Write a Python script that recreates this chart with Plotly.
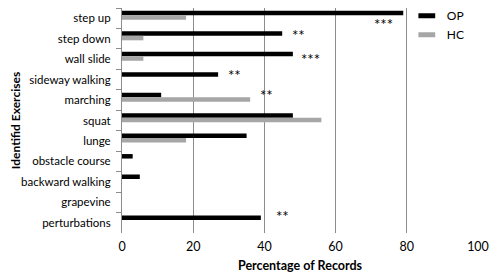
import plotly.graph_objects as go

categories = ["step up", "step down", "wall slide", "sideway walking", "marching",
              "squat", "lunge", "obstacle course", "backward walking", "grapevine",
              "perturbations"]
op_values = [79, 45, 48, 27, 11, 48, 35, 3, 5, 0, 39]
hc_values = [18, 6, 6, 0, 36, 56, 18, 0, 0, 0, 0]
x_ticks = [0, 20, 40, 60, 80, 100]
series_names = ["OP", "HC"]
series_colors = ["#000000", "#a6a6a6"]
bar_offsets = [-0.36, -0.14]

# significance markers
sig_cats = ["step up", "step down", "wall slide", "sideway walking", "marching", "perturbations"]
sig_x = [73.5, 49.5, 53, 31.5, 40.5, 45]
sig_labels = ["***", "**", "***", "**", "**", "**"]
sig_shift = [-6, 4, 0, 5, 5, 7]

font_family = "Lato, Carlito, Arial, sans-serif"

fig = go.Figure()
for vals, name, col, off in zip([op_values, hc_values], series_names, series_colors, bar_offsets):
    fig.add_trace(go.Bar(y=categories, x=vals, orientation="h", name=name,
                         marker=dict(color=col, line=dict(width=0)),
                         width=0.22, offset=off, showlegend=False))
# legend entries drawn as short thick dashes like the original
for name, col in zip(series_names, series_colors):
    fig.add_trace(go.Scatter(x=[None], y=[None], mode="markers", name=name,
                             marker=dict(symbol="line-ew", size=12,
                                         line=dict(color=col, width=5))))

for c, x, t, s in zip(sig_cats, sig_x, sig_labels, sig_shift):
    fig.add_annotation(x=x, y=c, text=t, showarrow=False, yshift=s,
                       font=dict(size=15, color="#000000", family=font_family))

fig.update_layout(
    width=500, height=277,
    margin=dict(l=114, r=30, t=0, b=52, autoexpand=False),
    plot_bgcolor="white", paper_bgcolor="white",
    barmode="overlay",
    font=dict(family=font_family, size=12.5, color="#000000"),
    showlegend=True,
    legend=dict(x=0.80, y=1.03, xanchor="left", yanchor="top",
                bgcolor="rgba(0,0,0,0)", font=dict(size=12),
                tracegroupgap=0),
    xaxis=dict(range=[0, 100], tickvals=x_ticks, showgrid=True, gridcolor="#8c8c8c",
               gridwidth=1, zeroline=False, showline=False, automargin=False,
               ticklabelstandoff=4,
               title=dict(text="<b>Percentage of Records</b>", font=dict(size=12.5), standoff=8),
               tickfont=dict(size=12.5, color="#000000")),
    yaxis=dict(range=[len(categories) - 0.5, -0.5], categoryorder="array",
               categoryarray=categories,
               showline=True, linecolor="#8c8c8c", linewidth=1, automargin=False,
               ticks="outside", tickson="boundaries", ticklen=5, tickcolor="#8c8c8c",
               ticklabelstandoff=8, showgrid=False,
               title=dict(text="<b>Identifid Exercises</b>", font=dict(size=12), standoff=6),
               tickfont=dict(size=11.5, color="#000000")),
)

fig.write_html("out.html")
